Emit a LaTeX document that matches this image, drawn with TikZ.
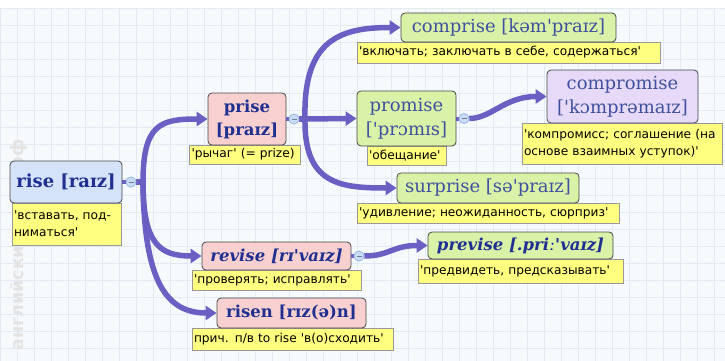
\documentclass[tikz,border=0pt]{standalone}
\usepackage{fontspec}
\usetikzlibrary{arrows.meta}
\newfontfamily\hdfont{DejaVu Serif}[Ligatures=TeXOff]
\newfontfamily\ntfont{DejaVu Sans}[Ligatures=TeXOff]
\definecolor{bgc}{HTML}{F7FAFD}
\definecolor{gridc}{HTML}{E2EBF4}
\definecolor{linkc}{HTML}{6A5FC3}
\definecolor{bluebox}{HTML}{D5E3FA}
\definecolor{pinkbox}{HTML}{F8D0D0}
\definecolor{greenbox}{HTML}{DAF2A8}
\definecolor{lavbox}{HTML}{E6DAF8}
\definecolor{noteyel}{HTML}{FFFF80}
\definecolor{boxedge}{HTML}{454545}
\definecolor{navytxt}{HTML}{1F3090}
\definecolor{slatetxt}{HTML}{3F509F}
\definecolor{togfill}{HTML}{C9DCF5}
\definecolor{togedge}{HTML}{98B4DE}
\begin{document}
\begin{tikzpicture}[x=1pt,y=-1pt,
  hbox/.style={draw=boxedge, line width=0.8pt, rounded corners=4pt, inner sep=1pt, align=center},
  notebox/.style={draw=gray!80, fill=noteyel, line width=0.6pt, inner xsep=2pt, inner ysep=1pt,
    text width=#1, align=left, font=\ntfont\fontsize{12.2}{17}\selectfont},
  boldhd/.style={font=\hdfont\bfseries\fontsize{16.5}{23}\selectfont, text=navytxt},
  itbhd/.style={font=\hdfont\bfseries\itshape\fontsize{16.5}{23}\selectfont, text=navytxt},
  reghd/.style={font=\hdfont\fontsize{18}{24}\selectfont, text=slatetxt},
  link/.style={draw=linkc, line width=5.5pt, -{Triangle[length=11pt,width=14pt]}},
  stub/.style={draw=linkc, line width=4pt},
  tog/.style={circle, draw=togedge, fill=togfill, line width=0.6pt, minimum size=10pt, inner sep=0pt,
    path picture={\draw[togedge!70!black, line width=0.6pt] ([xshift=2.5pt]path picture bounding box.west) -- ([xshift=-2.5pt]path picture bounding box.east);}},
  wm/.style={font=\ntfont\bfseries\fontsize{17.5}{17.5}\selectfont, text=gray!22}
]
\useasboundingbox (0,0) rectangle (725,361);
\fill[white] (0,0) rectangle (725,361);
\fill[bgc] (0,8) rectangle (725,361);
\foreach \gx in {0,17,...,725} \draw[gridc, line width=0.5pt] (\gx,8) -- (\gx,361);
\foreach \gy in {8,25,...,361} \draw[gridc, line width=0.5pt] (0,\gy) -- (725,\gy);

\node[wm, rotate=90] (water) at (19,245) {английскиеслова.рф};

% notes
\node[notebox=105pt, minimum height=42pt] (risen0) at (66.5,224) {\mbox{'вставать, под-}\\\mbox{ниматься'}};
\node[notebox=107pt, minimum height=19pt] (prisen) at (245,154.5) {\mbox{'рычаг' (= prize)}};
\node[notebox=299pt, minimum height=21pt] (comprisen) at (508.5,52.5) {\mbox{'включать; заключать в себе, содержаться'}};
\node[notebox=75pt, minimum height=19pt] (promisen) at (406.5,155.5) {\mbox{'обещание'}};
\node[notebox=196pt, minimum height=41pt] (compromisen) at (622,143.5) {\mbox{'компромисс; соглашение (на}\\\mbox{основе взаимных уступок)'}};
\node[notebox=258pt, minimum height=20pt] (surprisen) at (488,213) {\mbox{'удивление; неожиданность, сюрприз'}};
\node[notebox=165pt, minimum height=20pt] (revisen) at (276.5,280) {\mbox{'проверять; исправлять'}};
\node[notebox=201pt, minimum height=24pt] (previsen) at (520.5,271) {\mbox{'предвидеть, предсказывать'}};
\node[notebox=197pt, minimum height=22pt] (risenn) at (292.5,339) {\mbox{прич. п/в to rise 'в(о)сходить'}};

% word boxes
\node[hbox, fill=bluebox, boldhd, font=\hdfont\bfseries\fontsize{18}{20}\selectfont, minimum width=112pt, minimum height=42pt] (rise) at (66,182) {rise [raɪz]};
\node[hbox, fill=pinkbox, boldhd, minimum width=78pt, minimum height=52pt] (prise) at (247,119) {prise\\{}[praɪz]};
\node[hbox, fill=greenbox, reghd, minimum width=215pt, minimum height=29pt] (comprise) at (508.5,27.5) {comprise [kəm'praɪz]};
\node[hbox, fill=greenbox, reghd, minimum width=99pt, minimum height=55pt] (promise) at (406.5,118.5) {promise\\{}['prɔmɪs]};
\node[hbox, fill=lavbox, reghd, minimum width=151pt, minimum height=53pt] (compromise) at (622.5,96.5) {compromise\\{}['kɔmprəmaɪz]};
\node[hbox, fill=greenbox, reghd, minimum width=182pt, minimum height=30pt] (surprise) at (488,188) {surprise [sə'praɪz]};
\node[hbox, fill=pinkbox, itbhd, minimum width=149pt, minimum height=28pt] (revise) at (276.5,256) {revise [rɪ'vaɪz]};
\node[hbox, fill=greenbox, itbhd, minimum width=185pt, minimum height=27pt] (previse) at (520.5,245.5) {previse [.priː'vaɪz]};
\node[hbox, fill=pinkbox, boldhd, minimum width=149pt, minimum height=30pt] (risen) at (291.5,313) {risen [rɪz(ə)n]};

% junctions
\coordinate (rj) at (143,182);
\coordinate (pj) at (305,119);

% toggles
\node[tog] (rc) at (131,182) {};
\node[tog] (pc) at (294,119) {};
\node[tog] (mc) at (464,118.5) {};
\node[tog] (vc) at (359,256) {};

% connectors
\path[stub] (rise.east) -- (rc);
\path[stub] (prise.east) -- (pc);
\path[stub] (promise.east) -- (mc);
\path[stub] (revise.east) -- (vc);

\path[link] (rc.east) -- (rj) .. controls +(0,-58) and +(-47,0) .. (prise.west);
\path[link] (rc.east) -- (rj) .. controls +(0,62) and +(-42,0) .. (revise.west);
\path[link] (rc.east) -- (rj) .. controls +(1,100) and +(-50,0) .. (risen.west);

\path[link] (pc.east) -- (pj) .. controls +(-2,-79) and +(-61,0) .. (comprise.west);
\path[link] (pc.east) -- (promise.west);
\path[link] (pc.east) -- (pj) .. controls +(-1,65) and +(-57,0) .. (surprise.west);

\path[link] (mc.east) .. controls +(22,0) and +(-42,0) .. (compromise.west);
\path[link] (vc.east) .. controls +(25,0) and +(-35,0) .. (previse.west);

% toggles on top
\node[tog] (rc2) at (rc) {};
\node[tog] (pc2) at (pc) {};
\node[tog] (mc2) at (mc) {};
\node[tog] (vc2) at (vc) {};
\end{tikzpicture}
\end{document}
